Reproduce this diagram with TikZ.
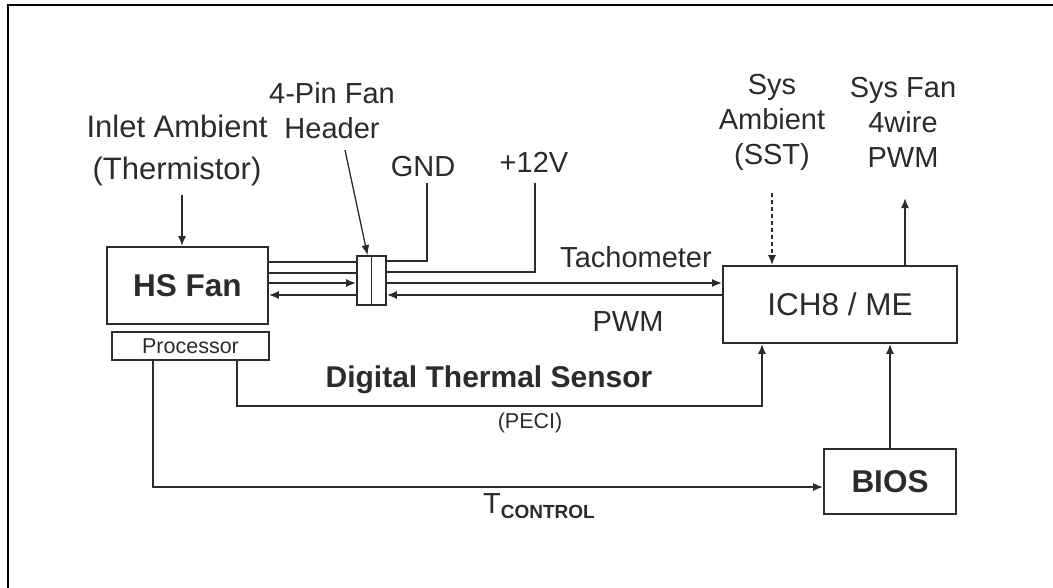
\documentclass[tikz,border=0pt]{standalone}
\usepackage{fontspec}
\setmainfont{Liberation Sans}
\usetikzlibrary{arrows.meta}
\definecolor{ink}{HTML}{2B2B2B}
\newcommand{\dglabel}{\fontsize{29}{35}\selectfont}
\newcommand{\dginlet}{\fontsize{31}{42}\selectfont}
\newcommand{\dgbig}{\fontsize{31.5}{36}\selectfont}
\newcommand{\dgsmall}{\fontsize{21.5}{24}\selectfont}
\newcommand{\dgsub}{\fontsize{19}{21}\selectfont\bfseries}

\begin{document}
\begin{tikzpicture}[x=1pt,y=-1pt,
  blk/.style={draw=ink,line width=1.7pt,inner sep=0pt,text=ink},
  wire/.style={ink,line width=1.7pt},
  tip/.style={-{Latex[length=10pt,width=8pt]}},
  lbl/.style={text=ink,font=\dglabel,align=center,inner sep=0pt}]

  % Frame
  \useasboundingbox (0,0) rectangle (1053,587);
  \draw[black,line width=2.5pt] (8,5) rectangle (1070,600);

  % Blocks
  \node[blk,minimum width=161pt,minimum height=77pt,font=\dgbig\bfseries] (hsfan) at (187.5,285.5) {HS Fan};
  \node[blk,minimum width=157pt,minimum height=28pt,font=\dgsmall] (proc) at (190.5,346) {Processor};
  \node[blk,minimum width=29pt,minimum height=49pt] (hdr) at (371.5,280.5) {};
  \draw[wire] (hdr.north) -- (hdr.south);
  \node[blk,minimum width=234pt,minimum height=77pt,font=\dgbig] (ich) at (840,304.5) {ICH8 / ME};
  \node[blk,minimum width=132pt,minimum height=65pt,font=\dgbig\bfseries] (bios) at (890,481.5) {BIOS};

  % Labels
  \node[lbl,font=\dginlet] (inlet) at (177,150) {Inlet Ambient\\(Thermistor)};
  \node[lbl] (hdrlbl) at (332,111) {4-Pin Fan\\Header};
  \node[lbl] (gnd) at (423,167) {GND};
  \node[lbl] (p12) at (534,162) {+12V};
  \node[lbl] (tach) at (636,257) {Tachometer};
  \node[lbl] (pwm) at (628,322) {PWM};
  \node[lbl] (sysamb) at (772,122) {Sys\\Ambient\\(SST)};
  \node[lbl] (sysfan) at (903,122) {Sys Fan\\4wire\\PWM};
  \node[lbl,font=\fontsize{30}{34}\selectfont\bfseries] (dts) at (489,380) {Digital Thermal Sensor};
  \node[lbl,font=\dgsmall] (peci) at (530,423) {(PECI)};
  \node[lbl] (tctl) at (539,506) {T\raisebox{-5pt}{\dgsub CONTROL}};

  % Free ends
  \coordinate (inletend) at (182,195);
  \coordinate (hdrend) at (345,150);
  \coordinate (gndtop) at (427,183);
  \coordinate (vtop) at (535,183);
  \coordinate (sst) at (772,193);
  \coordinate (sysfanend) at (905,198);

  % Fan wires through the header
  \foreach \y in {262,273}
    \draw[wire] (hsfan.east |- 0,\y) -- (hdr.west |- 0,\y);
  \draw[wire,tip] (hsfan.east |- 0,283) -- (hdr.west |- 0,283);
  \draw[wire,tip] (hdr.west |- 0,295) -- (hsfan.east |- 0,295);
  \draw[wire] (hdr.east |- 0,261) -| (gndtop);
  \draw[wire] (hdr.east |- 0,272) -| (vtop);
  \draw[wire,tip] (hdr.east |- 0,283) -- (ich.west |- 0,283);
  \draw[wire,tip] (ich.west |- 0,295) -- (hdr.east |- 0,295);

  % Pointers
  \draw[wire,tip] (inletend) -- (hsfan.north -| inletend);
  \draw[ink,line width=1.3pt,tip] (hdrend) -- ([xshift=-4pt]hdr.north);
  \draw[wire,tip,dash pattern=on 4pt off 3pt] (sst) -- (sst |- ich.north);
  \draw[wire,tip] (ich.north -| sysfanend) -- (sysfanend);

  % Processor paths
  \draw[wire,tip] ([xshift=46.5pt]proc.south) |- (762,406) -- (ich.south -| 762,0);
  \draw[wire,tip] ([xshift=-37.5pt]proc.south) |- ([yshift=-5.5pt]bios.west);
  \draw[wire,tip] (bios.north) -- (ich.south -| bios.north);

\end{tikzpicture}
\end{document}
